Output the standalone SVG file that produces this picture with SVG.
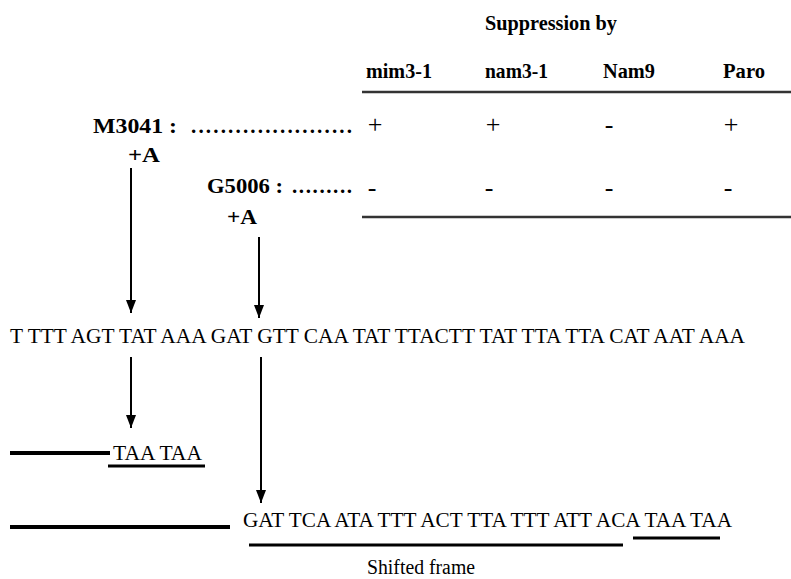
<svg xmlns="http://www.w3.org/2000/svg" width="791" height="579" viewBox="0 0 791 579">
<style>
text{font-family:'Liberation Serif','DejaVu Serif',serif;fill:#000}
.b{font-weight:bold;font-size:21px}
.r{font-size:20px}
.s{font-size:26px;text-anchor:middle}
.rule{stroke:#333;stroke-width:2.5;fill:none}
.thick{stroke:#000;stroke-width:4;fill:none}
.ul{stroke:#000;stroke-width:3;fill:none}
.arr{stroke:#000;stroke-width:2;fill:none;marker-end:url(#ah)}
</style>
<defs>
<marker id="ah" markerUnits="userSpaceOnUse" markerWidth="13" markerHeight="10" refX="13" refY="5" orient="auto" viewBox="0 0 13 10">
<path d="M0,0 L13,5 L0,10 Z" fill="#000"/>
</marker>
</defs>
<rect width="791" height="579" fill="#fff"/>
<g id="table">
<text class="b" x="485" y="30" textLength="132" lengthAdjust="spacingAndGlyphs">Suppression by</text>
<text class="b" x="366" y="78" textLength="66" lengthAdjust="spacingAndGlyphs">mim3-1</text>
<text class="b" x="485" y="78" textLength="63" lengthAdjust="spacingAndGlyphs">nam3-1</text>
<text class="b" x="603" y="78" textLength="52" lengthAdjust="spacingAndGlyphs">Nam9</text>
<text class="b" x="723" y="78" textLength="42" lengthAdjust="spacingAndGlyphs">Paro</text>
<line class="rule" x1="362" y1="92" x2="791" y2="92"/>
<text class="s" x="375" y="133">+</text>
<text class="s" x="493" y="133">+</text>
<text class="s" x="609" y="133">-</text>
<text class="s" x="731" y="133">+</text>
<text class="s" x="372" y="196">-</text>
<text class="s" x="489" y="196">-</text>
<text class="s" x="609" y="196">-</text>
<text class="s" x="728" y="196">-</text>
<line class="rule" x1="362" y1="217" x2="791" y2="217"/>
</g>
<g id="m3041">
<text class="b" x="93" y="133" textLength="84" lengthAdjust="spacingAndGlyphs">M3041 :</text>
<text class="b" x="191" y="133" textLength="161" lengthAdjust="spacing">......................</text>
<text class="b" x="128" y="162" textLength="32" lengthAdjust="spacingAndGlyphs">+A</text>
</g>
<g id="g5006">
<text class="b" x="207" y="193" textLength="76" lengthAdjust="spacingAndGlyphs">G5006 :</text>
<text class="b" x="292" y="193" textLength="60" lengthAdjust="spacing">.........</text>
<text class="b" x="227" y="224" textLength="30" lengthAdjust="spacingAndGlyphs">+A</text>
</g>
<g id="sequence">
<text class="r" x="10" y="343" textLength="735" lengthAdjust="spacingAndGlyphs">T TTT AGT TAT AAA GAT GTT CAA TAT TTACTT TAT TTA TTA CAT AAT AAA</text>
</g>
<g id="product1">
<line class="thick" x1="10" y1="453" x2="110" y2="453"/>
<text class="r" x="113" y="460" textLength="89" lengthAdjust="spacingAndGlyphs">TAA TAA</text>
<line class="ul" x1="108" y1="466" x2="205" y2="466"/>
</g>
<g id="product2">
<line class="thick" x1="10" y1="527" x2="230" y2="527"/>
<text class="r" x="243" y="527" textLength="489" lengthAdjust="spacingAndGlyphs">GAT TCA ATA TTT ACT TTA TTT ATT ACA TAA TAA</text>
<line class="ul" x1="249" y1="545" x2="623" y2="545"/>
<line class="ul" x1="633" y1="538" x2="720" y2="538"/>
<text class="r" x="367" y="574" font-size="19" textLength="108" lengthAdjust="spacingAndGlyphs">Shifted frame</text>
</g>
<g id="connectors">
<line class="arr" x1="131" y1="168" x2="131" y2="313"/>
<line class="arr" x1="259" y1="237" x2="259" y2="318"/>
<line class="arr" x1="131" y1="357" x2="131" y2="428"/>
<line class="arr" x1="261" y1="357" x2="261" y2="503"/>
</g>
</svg>
